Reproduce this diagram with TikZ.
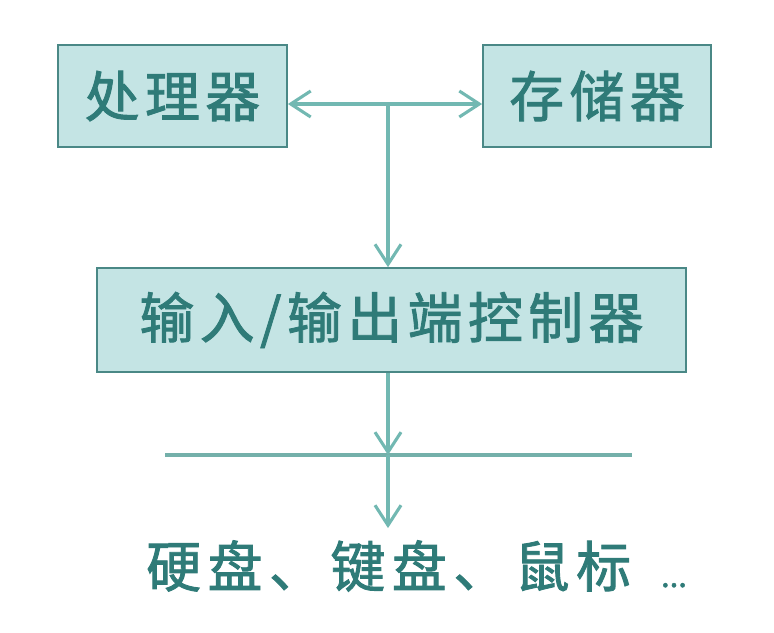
\documentclass[tikz,border=0pt]{standalone}
\usepackage{fontspec}
\setmainfont{Noto Sans CJK SC}
\newfontfamily\boxfont[FakeBold=1.6]{Noto Sans CJK SC}
\usepackage{xcolor}
\usepackage{tikz}
\usetikzlibrary{arrows.meta}
\usetikzlibrary{positioning}

\definecolor{boxfill}{HTML}{C4E4E4}
\definecolor{boxline}{HTML}{4A8886}
\definecolor{txtcol}{HTML}{2F7B78}
\definecolor{arrcol}{HTML}{72B8B2}

\begin{document}
\begin{tikzpicture}[
  x=0.025cm, y=-0.025cm,
  unit/.style={draw=boxline, fill=boxfill, line width=1.2pt, inner sep=0pt,
    text=txtcol, font=\boxfont\fontsize{39}{42}\selectfont\addfontfeature{LetterSpace=10}},
  link/.style={draw=arrcol, line width=2.2pt, -{Straight Barb[length=5mm, width=6.5mm, line width=2.2pt]}},
  bus/.style={draw=arrcol!85!gray, line width=2.2pt}
]
\useasboundingbox (0,0) rectangle (774,632);
\node[unit, minimum width=5.725cm, minimum height=2.55cm] (cpu) at (172.5,96) {处理器};
\node[unit, minimum width=5.7cm, minimum height=2.55cm] (mem) at (597,96) {存储器};
\node[unit, minimum width=14.725cm, minimum height=2.6cm] (io) at (391.5,320) {输入/输出端控制器};
\coordinate (hub) at (388,104);
\coordinate (busl) at (165,455);
\coordinate (busr) at (632,455);
\node[text=txtcol, font=\boxfont\fontsize{39}{42}\selectfont\addfontfeature{LetterSpace=12}, anchor=west, inner sep=0pt] (dev) at (146,566)
  {硬盘、键盘、鼠标\hspace{0.75cm}{\fontsize{22}{24}\selectfont\addfontfeature{LetterSpace=0}...}};

% links
\draw[link, {Straight Barb[length=5mm, width=6.5mm, line width=2.2pt]}-{Straight Barb[length=5mm, width=6.5mm, line width=2.2pt]}] (cpu.east |- hub) -- (mem.west |- hub);
\draw[link] (hub) -- (io.north -| hub);
\draw[bus] (busl) -- (busr);
\draw[link] (io.south -| hub) -- (hub |- busl);
\draw[link, shorten >=0.3cm] (hub |- busl) -- (hub |- dev.north);
\end{tikzpicture}
\end{document}
